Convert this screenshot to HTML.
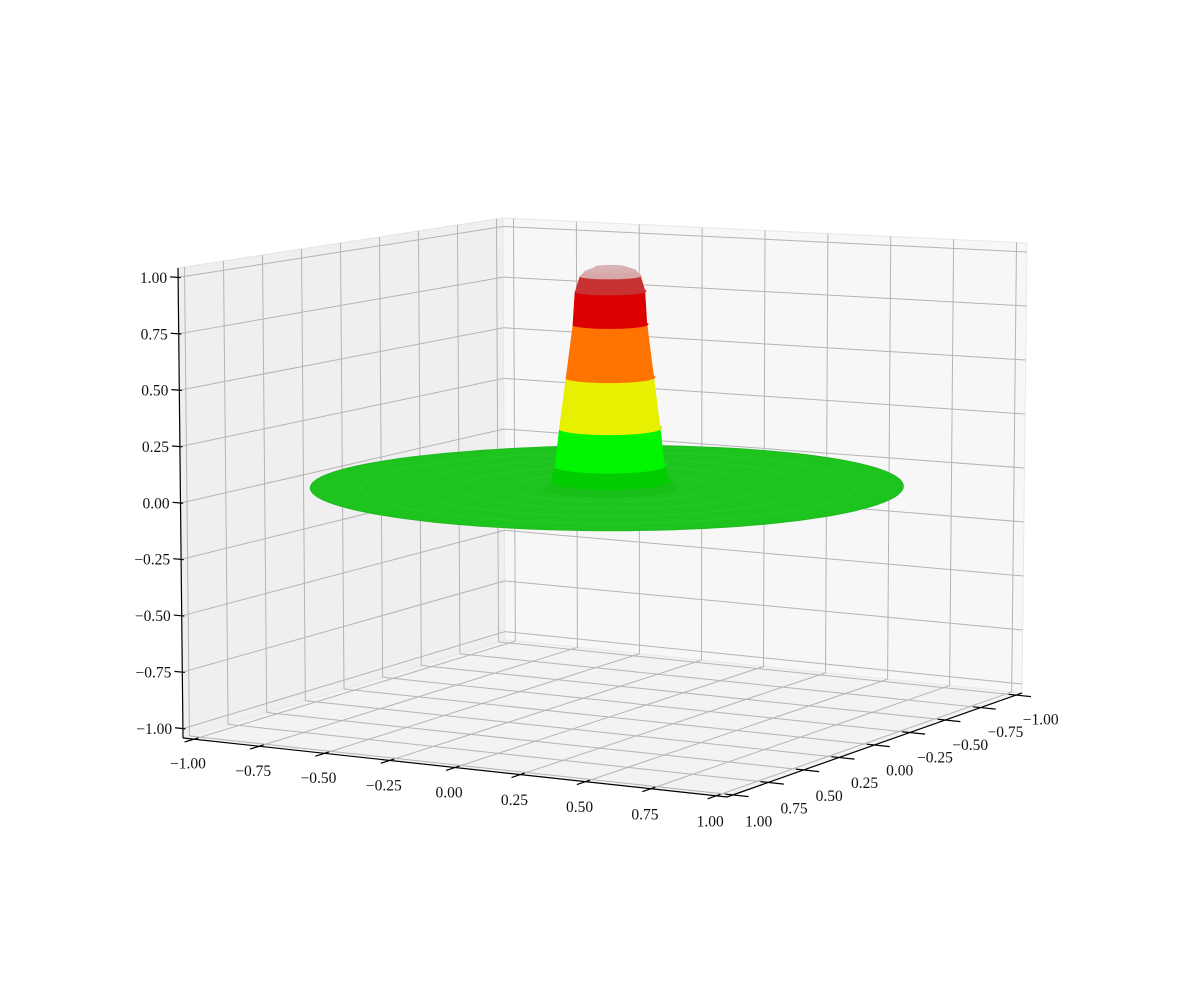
<!DOCTYPE html>
<html><head><meta charset="utf-8"><style>
html,body{margin:0;padding:0;background:#fff}
svg{display:block}
text{font-family:"Liberation Serif",serif;font-size:15.5px;fill:#111}
</style></head><body>
<svg id="chart" width="1200" height="1000" viewBox="0 0 1200 1000" xmlns="http://www.w3.org/2000/svg">
<g id="panes"></g>
<g id="grid"></g>
<g id="axes"></g>
<g id="surface"></g>
</svg>
<script>
const xTicks=[-1,-0.75,-0.5,-0.25,0,0.25,0.5,0.75,1];
const yTicks=[-1,-0.75,-0.5,-0.25,0,0.25,0.5,0.75,1];
const zTicks=[-1,-0.75,-0.5,-0.25,0,0.25,0.5,0.75,1];
// bump profile: height levels and radius at each level
const profileZ=[0,0.03,0.10,0.27,0.50,0.74,0.89,0.96,0.985,1.0];
const profileR=[0.23,0.205,0.19,0.175,0.152,0.128,0.121,0.104,0.085,0.05];
const bandColors=['#18bf18','#00cc00','#00f500','#e6f000','#ff7300','#dd0000','#c83232','#d8a8a8','#d8b0b0'];
const diskRadius=1;
const L=1.0417;
const C={
 '000':[505,640],'001':[503,218],'010':[183,738],'011':[178,268],
 '100':[1022,693],'101':[1027,243],'110':[727,797],'111':[732,302]};
function P(x,y,z){
 const u=(x+L)/(2*L),v=(y+L)/(2*L),w=(z+L)/(2*L);
 let X=0,Y=0;
 for(const a of [0,1])for(const b of [0,1])for(const c of [0,1]){
  const wt=(a?u:1-u)*(b?v:1-v)*(c?w:1-w);const p=C[''+a+b+c];X+=wt*p[0];Y+=wt*p[1];}
 return [X,Y];
}
const NS='http://www.w3.org/2000/svg';
function mk(tag,attrs,parent){const e=document.createElementNS(NS,tag);for(const k in attrs)e.setAttribute(k,attrs[k]);parent.appendChild(e);return e;}
function pts(a){return a.map(p=>p[0].toFixed(1)+','+p[1].toFixed(1)).join(' ');}
function fmt(t){const s=Math.abs(t).toFixed(2);return t<0?'\u2212'+s:s;}
const panes=document.getElementById('panes'),grid=document.getElementById('grid'),axes=document.getElementById('axes'),surf=document.getElementById('surface');
let e;
e=mk('polygon',{points:pts([P(-L,-L,-L),P(-L,L,-L),P(-L,L,L),P(-L,-L,L)]),fill:'#efefef',stroke:'#e4e4e4'},panes);

e=mk('polygon',{points:pts([P(-L,-L,-L),P(L,-L,-L),P(L,-L,L),P(-L,-L,L)]),fill:'#f7f7f7',stroke:'#e8e8e8'},panes);

e=mk('polygon',{points:pts([P(-L,-L,-L),P(L,-L,-L),P(L,L,-L),P(-L,L,-L)]),fill:'#f3f3f3',stroke:'#e8e8e8'},panes);

const gs={stroke:'#b4b4b4','stroke-width':1};
function gl(a,b,name){const l=mk('line',Object.assign({x1:a[0],y1:a[1],x2:b[0],y2:b[1]},gs),grid);}
xTicks.forEach(t=>{gl(P(t,-L,-L),P(t,L,-L),'floor-grid-x');gl(P(t,-L,-L),P(t,-L,L),'back-grid-x');});
yTicks.forEach(t=>{gl(P(-L,t,-L),P(L,t,-L),'floor-grid-y');gl(P(-L,t,-L),P(-L,t,L),'left-grid-y');});
zTicks.forEach(t=>{gl(P(-L,-L,t),P(-L,L,t),'left-grid-z');gl(P(-L,-L,t),P(L,-L,t),'back-grid-z');});
function ax(a,b,name){const l=mk('line',{x1:a[0],y1:a[1],x2:b[0],y2:b[1],stroke:'#000','stroke-width':1.2},axes);}
ax(P(-L,L,-L),P(L,L,-L),'x-axis-line');
ax(P(L,L,-L),P(L,-L,-L),'y-axis-line');
ax(P(-L,L,-L),P(-L,L,L),'z-axis-line');
function lab(p,s,anchor,name){const t=mk('text',{x:p[0].toFixed(1),y:p[1].toFixed(1),'text-anchor':anchor},axes);t.textContent=s;}
xTicks.forEach(t=>{ax(P(t,L-0.03,-L),P(t,L+0.06,-L),'x-tick');const p=P(t,L+0.04,-L-0.1);lab([p[0],p[1]+5],fmt(t),'middle','x-tick-label');});
yTicks.forEach(t=>{ax(P(L-0.03,t,-L),P(L+0.06,t,-L),'y-tick');const p=P(L+0.10,t,-L-0.1);lab([p[0],p[1]+5],fmt(t),'middle','y-tick-label');});
zTicks.forEach(t=>{ax(P(-L+0.01,L,t),P(-L-0.03,L,t),'z-tick');const p=P(-L-0.03,L,t);lab([p[0]-3,p[1]+6],fmt(t),'end','z-tick-label');});
function ring(r,z,a0,a1,n){const a=[];for(let i=0;i<=n;i++){const th=a0+(a1-a0)*i/n;a.push(P(r*Math.cos(th),r*Math.sin(th),z));}return a;}
const f0=-Math.PI/4,f1=3*Math.PI/4;
e=mk('polygon',{points:pts(ring(diskRadius,0,0,2*Math.PI,180)),fill:'#1ec41e',stroke:'#22b822','stroke-width':1},surf);

for(let k=1;k<6;k++){const r=mk('polygon',{points:pts(ring(diskRadius*k/6,0,0,2*Math.PI,120)),fill:'none',stroke:'#3fd03f','stroke-width':0.6,opacity:0.5},surf);}
for(let i=0;i<profileZ.length-1;i++){
 const lo=ring(profileR[i],profileZ[i],f0,f1,40);
 const hi=ring(profileR[i+1],profileZ[i+1],f1,f0,40);
 const b=mk('polygon',{points:pts(lo.concat(hi)),fill:bandColors[i],stroke:bandColors[i],'stroke-width':0.8},surf);
 
}
const last=profileZ.length-1;
e=mk('polygon',{points:pts(ring(profileR[last],profileZ[last],0,2*Math.PI,60)),fill:'#d9b4b4',stroke:'#d9b4b4'},surf);

</script>
</body></html>
